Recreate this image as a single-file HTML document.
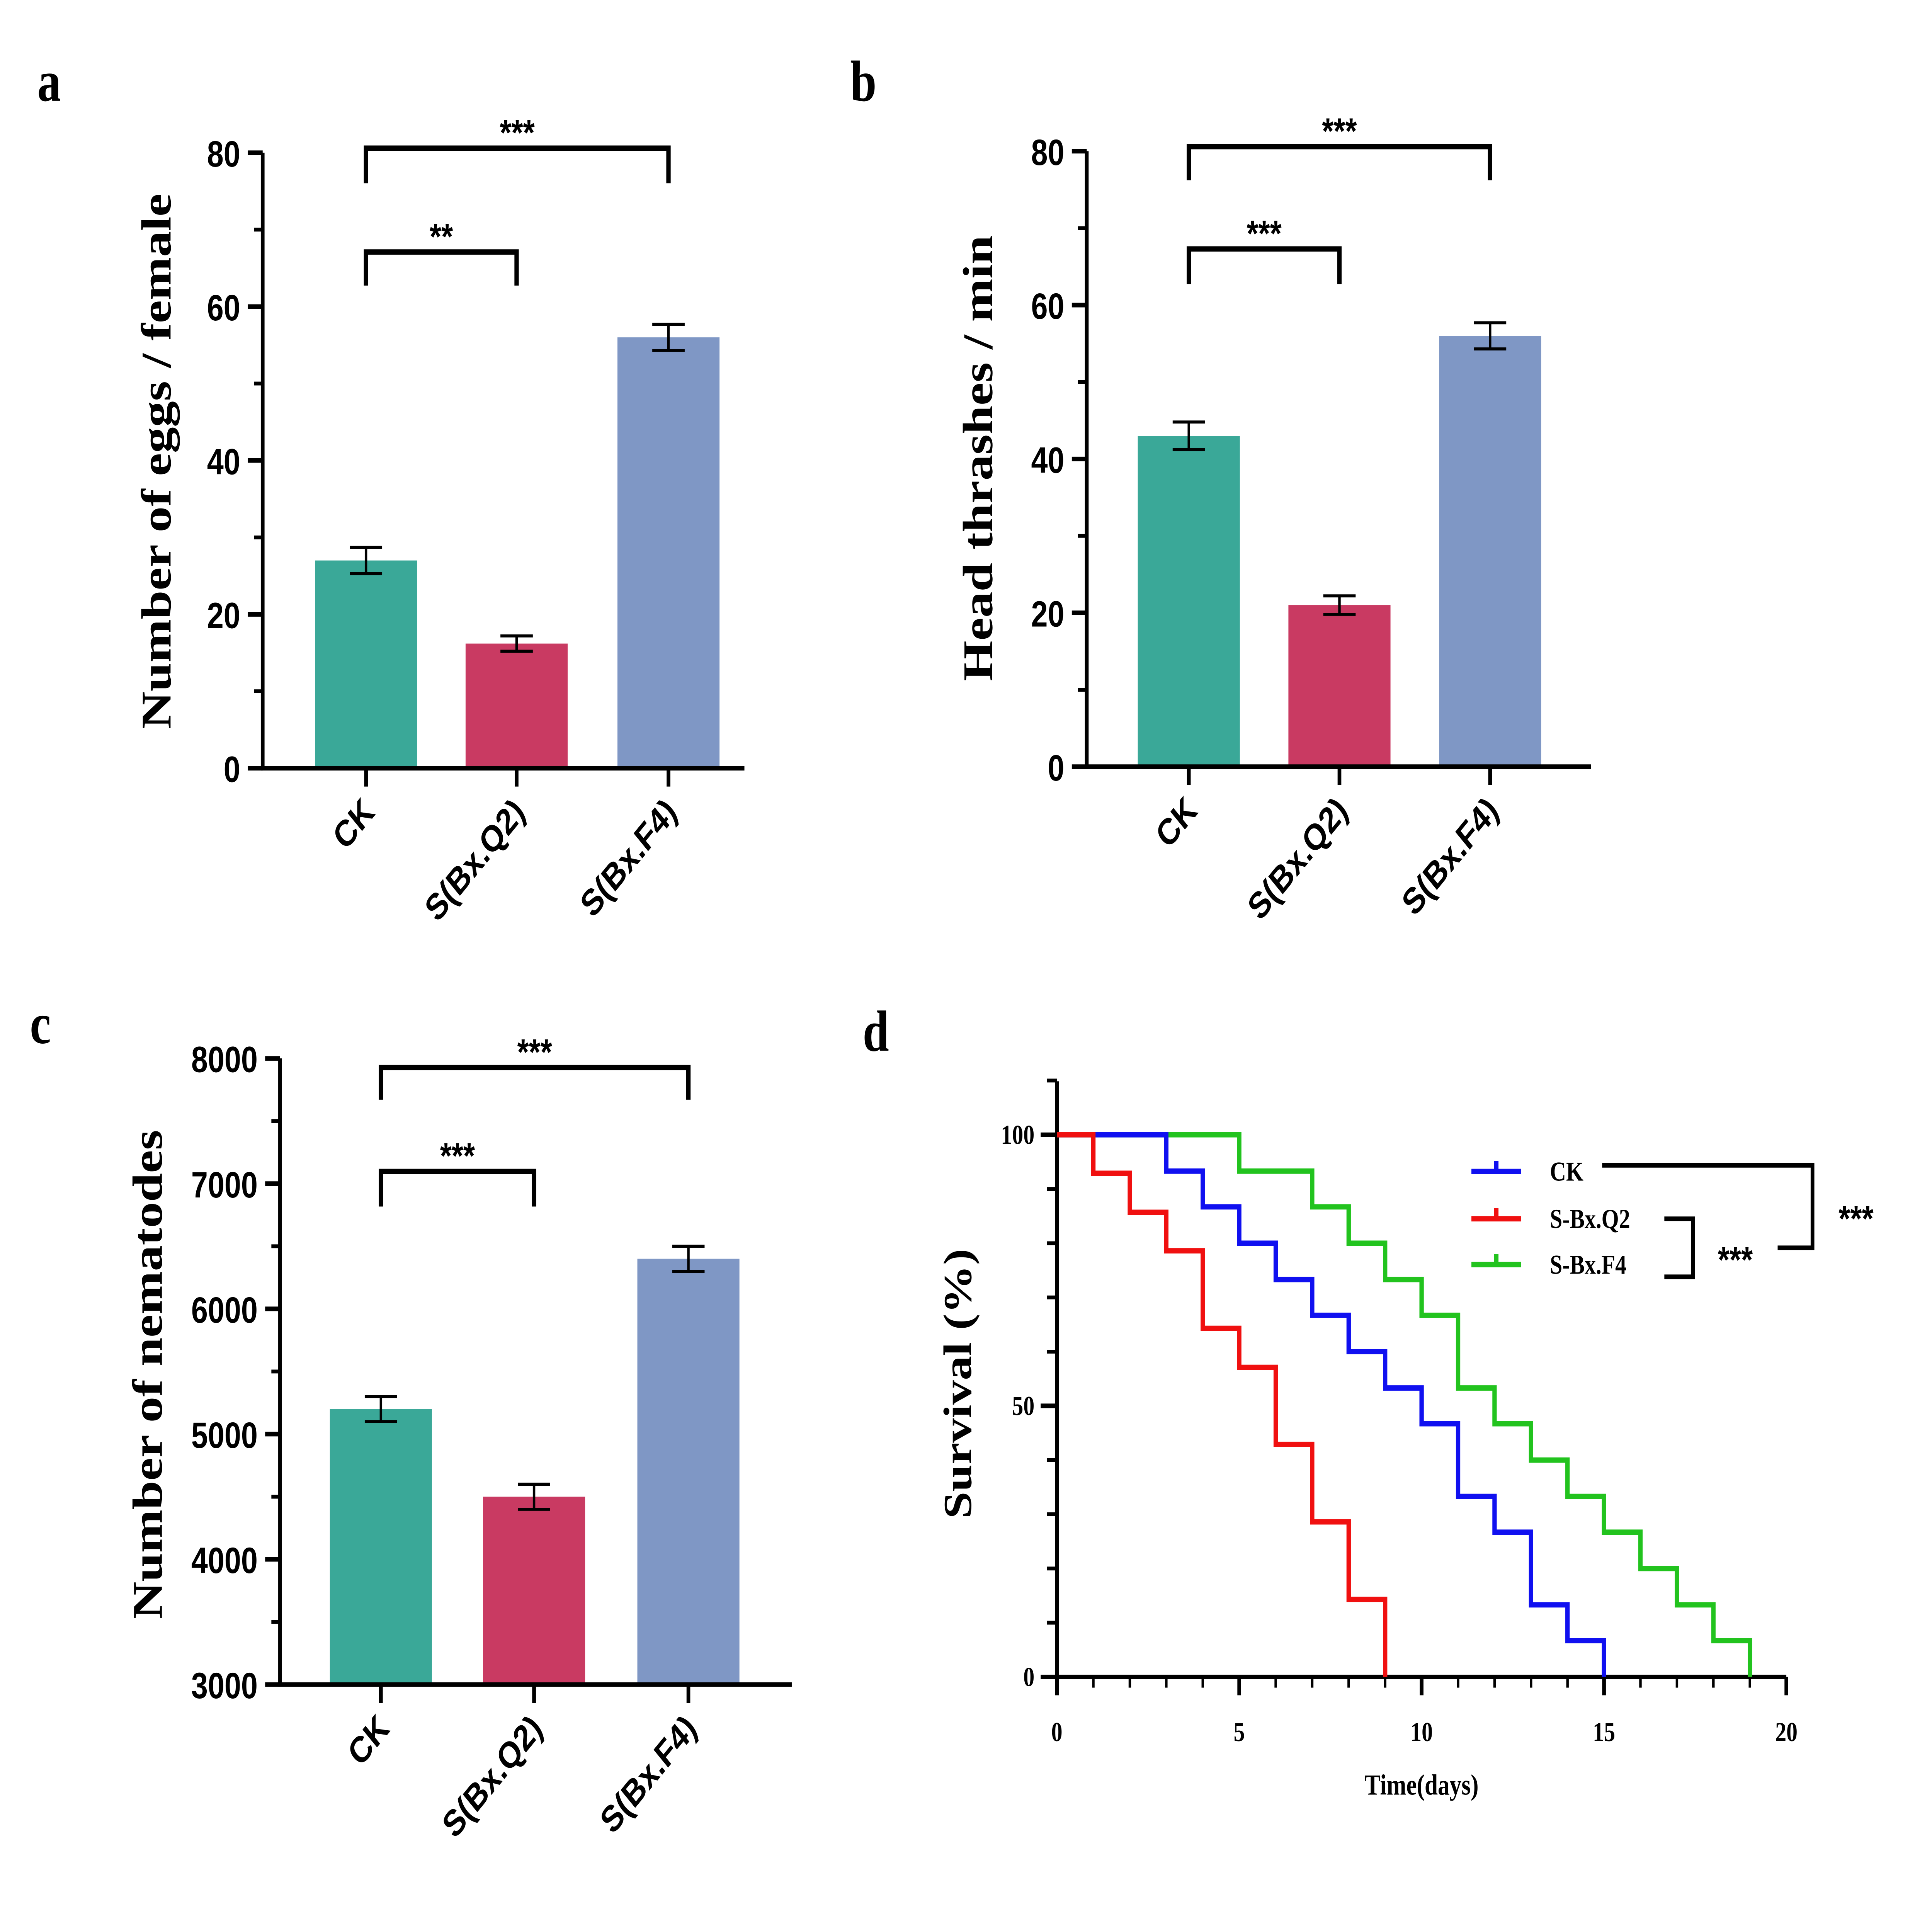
<!DOCTYPE html>
<html><head><meta charset="utf-8"><style>
html,body{margin:0;padding:0;background:#fff;overflow:hidden;width:100vw;height:100vh}
svg{display:block;width:100vw;height:100vh}
.tk{font-family:"Liberation Sans",sans-serif;font-weight:bold;font-size:24px;fill:#000}
.ser{font-family:"Liberation Serif",serif;font-weight:bold;fill:#000}
</style></head><body>
<svg id="fig" xmlns="http://www.w3.org/2000/svg" viewBox="0 0 1552 1265" preserveAspectRatio="none">
<rect width="1552" height="1265" fill="#fff"/>
<text class="ser" x="30" y="66" font-size="38">a</text>
<text class="ser" x="683" y="66" font-size="38">b</text>
<text class="ser" x="24" y="683" font-size="38">c</text>
<text class="ser" x="693" y="688" font-size="38">d</text>
</svg>
<script>
const categories=["CK","S(Bx.Q2)","S(Bx.F4)"];
const colors=["#3aa898","#c93a62","#7f97c5"];
const eggsValues=[27,16.2,56];
const eggsErr=[1.7,1,1.7];
const thrashValues=[43,21,56];
const thrashErr=[1.8,1.2,1.7];
const nemValues=[5200,4500,6400];
const nemErr=[100,100,100];
const ticksAB=[0,20,40,60,80];
const ticksC=[3000,4000,5000,6000,7000,8000];
const days=[0,1,2,3,4,5,6,7,8,9,10,11,12,13,14,15,16,17,18,19];
const survCK=[100,100,100,93.3,86.7,80,73.3,66.7,60,53.3,46.7,33.3,26.7,13.3,6.7,0];
const survQ2=[100,92.9,85.7,78.6,64.3,57.1,42.9,28.6,14.3,0];
const survF4=[100,100,100,100,100,93.3,93.3,86.7,80,73.3,66.7,53.3,46.7,40,33.3,26.7,20,13.3,6.7,0];
const xTicksD=[0,5,10,15,20];
const yTicksD=[0,50,100];

const svg=document.getElementById('fig');
const NS="http://www.w3.org/2000/svg";
function mk(tag,attrs,parent){const e=document.createElementNS(NS,tag);for(const k in attrs)e.setAttribute(k,attrs[k]);(parent||svg).appendChild(e);return e;}

function barPanel(o){
  const g=mk('g',{});
  
  
  const y=v=>o.y0-(v-o.vmin)/(o.vmax-o.vmin)*(o.y0-o.y1);
  categories.forEach((c,i)=>{
    const cx=o.cx[i];
    const r=mk('rect',{x:cx-41,y:y(o.vals[i]),width:82,height:o.y0-y(o.vals[i]),fill:colors[i]},g);
    
    
    const t=y(o.vals[i]+o.err[i]),b=y(o.vals[i]-o.err[i]);
    const eb=mk('path',{d:`M${cx-13},${t}H${cx+13}M${cx},${t}V${b}M${cx-13},${b}H${cx+13}`,stroke:'#000','stroke-width':2,fill:'none'},g);
    
    
    mk('line',{x1:cx,x2:cx,y1:o.y0,y2:o.y0+12,stroke:'#000','stroke-width':3},g);
    const tl=mk('text',{class:'tk','text-anchor':'end',transform:`translate(${cx+8},${o.y0+30}) rotate(-45)`},g);
    tl.textContent=c;
    
    
  });
  const ax=mk('path',{d:`M${o.x0},${o.y1}V${o.y0}H${o.x1}`,stroke:'#000','stroke-width':3,fill:'none'},g);
  
  
  for(let k=0;k<o.ticks.length;k++){
    const v=o.ticks[k],yy=y(v);
    mk('line',{x1:o.x0-12,x2:o.x0,y1:yy,y2:yy,stroke:'#000','stroke-width':3},g);
    const tl=mk('text',{class:'tk',x:o.x0-18,y:yy+9,'text-anchor':'end'},g);
    tl.textContent=v;
    
    
    if(k<o.ticks.length-1){const ym=y((v+o.ticks[k+1])/2);mk('line',{x1:o.x0-7,x2:o.x0,y1:ym,y2:ym,stroke:'#000','stroke-width':2.5},g);}
  }
  const tt=mk('text',{class:'ser','font-size':34,'text-anchor':'middle',transform:`translate(${o.tx},${o.ty}) rotate(-90)`},g);
  tt.textContent=o.title;
  
  
  o.br.forEach(b=>{
    const x1=o.cx[b[0]],x2=o.cx[b[1]];
    const p=mk('path',{d:`M${x1},${b[3]}V${b[2]}H${x2}V${b[3]}`,stroke:'#000','stroke-width':3.5,fill:'none'},g);
    
    
    const s=mk('text',{class:'tk','font-size':30,x:(x1+x2)/2,y:b[2]-2,'text-anchor':'middle'},g);
    s.textContent=b[4];
    
    
  });
}
barPanel({name:'chart-eggs',x0:211,x1:598,y0:503,y1:100,vmin:0,vmax:80,cx:[294,415,537],vals:eggsValues,err:eggsErr,ticks:ticksAB,title:'Number of eggs / female',tx:137,ty:302,br:[[0,2,97,120,'***'],[0,1,165,187,'**']]});
barPanel({name:'chart-thrashes',x0:873,x1:1278,y0:502,y1:99,vmin:0,vmax:80,cx:[955,1076,1197],vals:thrashValues,err:thrashErr,ticks:ticksAB,title:'Head thrashes / min',tx:797,ty:300,br:[[0,2,96,118,'***'],[0,1,163,186,'***']]});
barPanel({name:'chart-nematodes',x0:225,x1:636,y0:1103,y1:693,vmin:3000,vmax:8000,cx:[306,429,553],vals:nemValues,err:nemErr,ticks:ticksC,title:'Number of nematodes',tx:130,ty:900,br:[[0,2,699,720,'***'],[0,1,767,790,'***']]});

(function(){
  const g=mk('g',{});
  
  
  const X=d=>849+d*(1435-849)/20, Y=v=>1098-v*3.55;
  const ax=mk('path',{d:`M849,708V1098H1435`,stroke:'#000','stroke-width':3,fill:'none'},g);
  
  
  for(let v=0;v<=110;v+=10){mk('line',{x1:841,x2:849,y1:Y(v),y2:Y(v),stroke:'#000','stroke-width':2.5},g);}
  yTicksD.forEach(v=>{mk('line',{x1:836,x2:849,y1:Y(v),y2:Y(v),stroke:'#000','stroke-width':3},g);
    const t=mk('text',{class:'ser','font-size':18,x:831,y:Y(v)+6,'text-anchor':'end'},g);t.textContent=v;
    
    });
  for(let d=0;d<=20;d++){mk('line',{x1:X(d),x2:X(d),y1:1098,y2:1105,stroke:'#000','stroke-width':2},g);}
  xTicksD.forEach(d=>{mk('line',{x1:X(d),x2:X(d),y1:1098,y2:1110,stroke:'#000','stroke-width':3},g);
    const t=mk('text',{class:'ser','font-size':18,x:X(d),y:1140,'text-anchor':'middle'},g);t.textContent=d;
    
    });
  const xt=mk('text',{class:'ser','font-size':19,x:1142,y:1175,'text-anchor':'middle'},g);xt.textContent='Time(days)';
  
  
  const yt=mk('text',{class:'ser','font-size':32,'text-anchor':'middle',transform:'translate(780,906) rotate(-90)'},g);yt.textContent='Survival (%)';
  
  
  function step(vals,col,name){
    let d=`M${X(0)},${Y(vals[0])}`;
    for(let i=1;i<vals.length;i++){d+=`H${X(days[i])}V${Y(vals[i])}`;}
    const p=mk('path',{d:d,stroke:col,'stroke-width':3.5,fill:'none'},g);
    
    
  }
  step(survF4,'#22c31e','survival-line-s-bx-f4');
  step(survCK,'#1010f0','survival-line-ck');
  step(survQ2,'#f01010','survival-line-s-bx-q2');
  [['CK','#1010f0',767],['S-Bx.Q2','#f01010',798],['S-Bx.F4','#22c31e',828]].forEach(l=>{
    const e=mk('g',{},g);
    
    
    mk('path',{d:`M1182,${l[2]}H1222M1202,${l[2]-7}V${l[2]}`,stroke:l[1],'stroke-width':3.5,fill:'none'},e);
    const t=mk('text',{class:'ser','font-size':18,x:1245,y:l[2]+6},e);t.textContent=l[0];
  });
  const b1=mk('path',{d:'M1287,763H1456V817H1428',stroke:'#000','stroke-width':3,fill:'none'},g);
  
  
  const b2=mk('path',{d:'M1337,798H1360V836H1337',stroke:'#000','stroke-width':3,fill:'none'},g);
  
  
  const s1=mk('text',{class:'tk','font-size':24,x:1491,y:806,'text-anchor':'middle'},g);s1.textContent='***';
  
  
  const s2=mk('text',{class:'tk','font-size':24,x:1394,y:833,'text-anchor':'middle'},g);s2.textContent='***';
  
  
})();
</script>
</body></html>
